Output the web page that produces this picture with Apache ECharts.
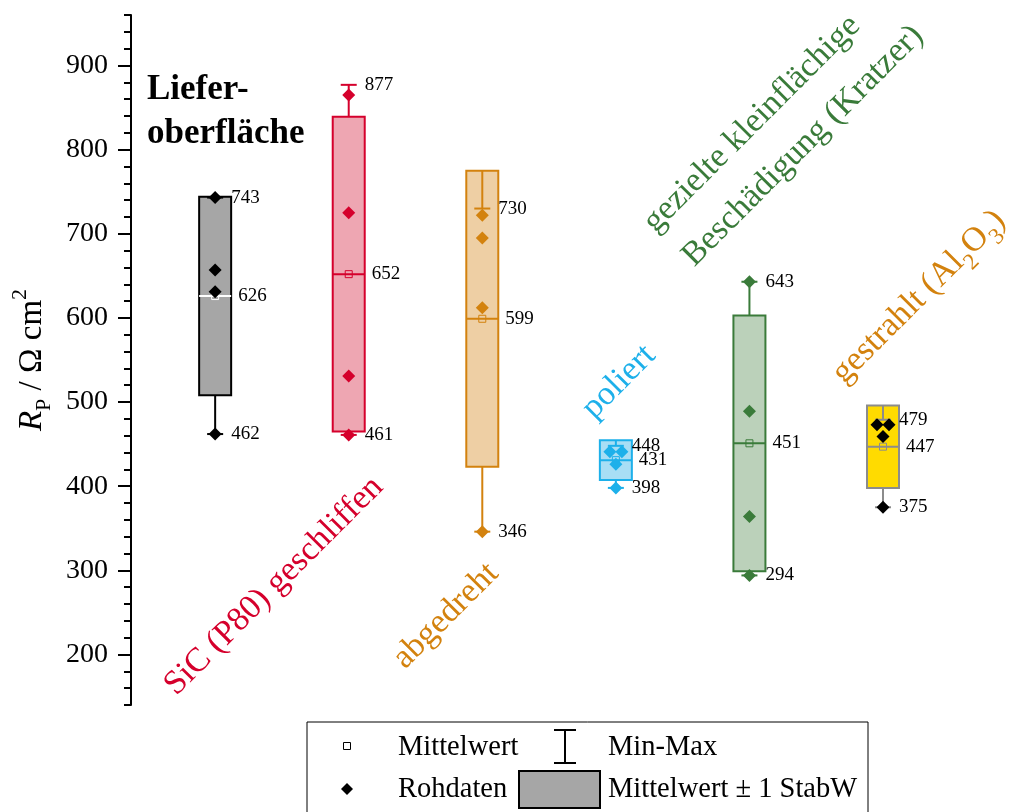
<!DOCTYPE html>
<html><head><meta charset="utf-8">
<script src="https://cdn.jsdelivr.net/npm/echarts@6/dist/echarts.min.js"></script>
<style>html,body{margin:0;padding:0;background:#fff}#c{width:1011px;height:812px}</style>
</head><body><div id="c"></div>
<script>
const categories = ['Lieferoberfläche', 'SiC (P80) geschliffen', 'abgedreht', 'poliert', 'gezielte kleinflächige Beschädigung (Kratzer)', 'gestrahlt (Al2O3)'];
const meanValues = [626, 652, 599, 431, 451, 447];
const sdValues = [118, 187, 176, 23.5, 152, 49];
const minValues = [462, 461, 346, 398, 294, 375];
const maxValues = [743, 877, 730, 448, 643, 479];
const rawValues = [
  [743, 657, 631, 462],
  [865, 725, 531, 461],
  [722, 695, 612, 346],
  [441, 441, 426, 398],
  [643, 489, 364, 294],
  [473, 473, 459, 375]
];
const yMajorTicks = [200, 300, 400, 500, 600, 700, 800, 900];
const yMinorTicks = [140, 160, 180, 200, 220, 240, 260, 280, 300, 320, 340, 360, 380, 400, 420, 440, 460, 480, 500, 520, 540, 560, 580, 600, 620, 640, 660, 680, 700, 720, 740, 760, 780, 800, 820, 840, 860, 880, 900, 920, 940, 960];

const FONT = '"Liberation Serif", "Times New Roman", serif';
const boxFill = ['#a6a6a6', '#eea6b2', '#eecfa4', '#a8def5', '#bbd1ba', '#ffdb00'];
const boxStroke = ['#000000', '#d5002c', '#d3820e', '#1db0ea', '#3a7b3a', '#8c8c8c'];
const whiskerColor = ['#000000', '#d5002c', '#d3820e', '#1db0ea', '#3a7b3a', '#8c8c8c'];
const meanLineColor = ['#ffffff', '#d5002c', '#d3820e', '#1db0ea', '#3a7b3a', '#8c8c8c'];
const pointColor = ['#000000', '#d5002c', '#d3820e', '#1db0ea', '#3a7b3a', '#000000'];

const boxData = categories.map((c, i) => [i + 1, meanValues[i], sdValues[i], minValues[i], maxValues[i]]);

const pointData = [];
rawValues.forEach((vals, i) => {
  vals.forEach((v, k) => {
    let off = 0;
    const dupIdx = vals.findIndex((w, j) => j !== k && Math.abs(w - v) < 3);
    if (dupIdx >= 0) off = dupIdx > k ? -0.045 : 0.045;
    pointData.push({ value: [i + 1 + off, v], itemStyle: { color: pointColor[i], opacity: 1 } });
  });
});

function renderBox(params, api) {
  const i = params.dataIndex;
  const x = api.value(0), mean = api.value(1), sd = api.value(2), mn = api.value(3), mx = api.value(4);
  const pTop = api.coord([x, mean + sd]), pBot = api.coord([x, mean - sd]);
  const pMean = api.coord([x, mean]), pMin = api.coord([x, mn]), pMax = api.coord([x, mx]);
  const cx = pMean[0], hw = 16, cap = 8;
  const wc = whiskerColor[i];
  const txt = (t, dx, y) => ({
    type: 'text',
    style: { text: t, x: cx + dx, y: y, fill: '#000', fontSize: 19, fontFamily: FONT,
      align: 'left', verticalAlign: 'middle', textAlign: 'left', textVerticalAlign: 'middle' }
  });
  return {
    type: 'group',
    children: [
      { type: 'rect', shape: { x: cx - hw, y: pTop[1], width: 2 * hw, height: pBot[1] - pTop[1] },
        style: { fill: boxFill[i], stroke: boxStroke[i], lineWidth: 2 } },
      { type: 'line', shape: { x1: cx, y1: pTop[1], x2: cx, y2: pMax[1] }, style: { stroke: wc, lineWidth: 2 } },
      { type: 'line', shape: { x1: cx - cap, y1: pMax[1], x2: cx + cap, y2: pMax[1] }, style: { stroke: wc, lineWidth: 2 } },
      { type: 'line', shape: { x1: cx, y1: pBot[1], x2: cx, y2: pMin[1] }, style: { stroke: wc, lineWidth: 2 } },
      { type: 'line', shape: { x1: cx - cap, y1: pMin[1], x2: cx + cap, y2: pMin[1] }, style: { stroke: wc, lineWidth: 2 } },
      { type: 'line', shape: { x1: cx - hw, y1: pMean[1], x2: cx + hw, y2: pMean[1] }, style: { stroke: meanLineColor[i], lineWidth: 2 } },
      { type: 'rect', shape: { x: cx - 3.5, y: pMean[1] - 3.5, width: 7, height: 7 }, style: { fill: 'none', stroke: meanLineColor[i], lineWidth: 1 } },
      txt(String(mx), 16, pMax[1]),
      txt(String(mean), 23, pMean[1]),
      txt(String(mn), 16, pMin[1])
    ]
  };
}

function rotText(text, cx, cy, color, size, rich) {
  return {
    type: 'text', x: cx, y: cy, rotation: Math.PI / 4,
    style: { text: text, fill: color, fontSize: size, fontFamily: FONT,
      align: 'center', verticalAlign: 'middle', textAlign: 'center', textVerticalAlign: 'middle', rich: rich }
  };
}

const chart = echarts.init(document.getElementById('c'), null, { renderer: 'canvas' });
const legendFont = { fill: '#000', fontSize: 28.5, fontFamily: FONT, align: 'left', verticalAlign: 'middle', textAlign: 'left', textVerticalAlign: 'middle' };
const RS = 34;

chart.setOption({
  animation: false,
  backgroundColor: '#fff',
  grid: { left: 131, right: 34.5, top: 15, bottom: 107 },
  xAxis: { type: 'value', min: 0.37, max: 6.7, show: false },
  yAxis: [{
    type: 'value', min: 140, max: 960, position: 'left',
    axisLine: { show: true, lineStyle: { color: '#000', width: 2 } },
    axisTick: { show: true, customValues: yMajorTicks, length: 13, lineStyle: { color: '#000', width: 2 } },
    axisLabel: { customValues: yMajorTicks, margin: 23, color: '#000', fontSize: 28, fontFamily: FONT },
    splitLine: { show: false },
    name: '{i|R}{s|P}{n| / Ω cm}{u|2}',
    nameLocation: 'middle', nameRotate: 90, nameGap: 76,
    nameTextStyle: {
      color: '#000', fontFamily: FONT, fontSize: 33,
      rich: {
        i: { fontStyle: 'italic', fontSize: 33, fontFamily: FONT, color: '#000' },
        n: { fontSize: 33, fontFamily: FONT, color: '#000' },
        s: { fontSize: 22, fontFamily: FONT, color: '#000', verticalAlign: 'bottom', padding: [24, 0, 0, 0] },
        u: { fontSize: 22, fontFamily: FONT, color: '#000', verticalAlign: 'top', padding: [0, 0, 24, 0] }
      }
    }
  }, {
    type: 'value', min: 140, max: 960, position: 'left', offset: 0,
    axisLine: { show: false },
    axisTick: { show: true, customValues: yMinorTicks, length: 7, lineStyle: { color: '#000', width: 2 } },
    axisLabel: { show: false },
    splitLine: { show: false }
  }],
  series: [{
    type: 'custom', renderItem: renderBox, data: boxData, z: 2,
    encode: { x: 0, y: [1] }
  }, {
    type: 'scatter', data: pointData, symbol: 'diamond', symbolSize: 13, z: 3,
    itemStyle: { opacity: 1 }
  }],
  graphic: [
    { type: 'text', x: 147, y: 90, style: { text: 'Liefer-', fill: '#000', fontSize: 35, fontWeight: 'bold', fontFamily: FONT, align: 'left', verticalAlign: 'middle', textAlign: 'left', textVerticalAlign: 'middle' } },
    { type: 'text', x: 147, y: 134, style: { text: 'oberfläche', fill: '#000', fontSize: 35, fontWeight: 'bold', fontFamily: FONT, align: 'left', verticalAlign: 'middle', textAlign: 'left', textVerticalAlign: 'middle' } },
    rotText('SiC (P80) geschliffen', 274, 586, '#d5002c', RS),
    rotText('abgedreht', 446, 616, '#d3820e', RS),
    rotText('poliert', 619, 382, '#1db0ea', RS),
    rotText('gezielte kleinflächige', 752, 124, '#3a7b3a', RS),
    rotText('Beschädigung (Kratzer)', 803, 146, '#3a7b3a', RS),
    rotText('{n|gestrahlt (Al}{s|2}{n|O}{s|3}{n|)}', 919, 297, '#d3820e', RS, {
      n: { fontSize: RS, fontFamily: FONT, fill: '#d3820e', color: '#d3820e' },
      s: { fontSize: 23, fontFamily: FONT, fill: '#d3820e', color: '#d3820e', verticalAlign: 'bottom', padding: [26, 0, 0, 0] }
    }),
    { type: 'rect', shape: { x: 307, y: 722, width: 561, height: 110 }, style: { fill: '#fff', stroke: '#000', lineWidth: 1 }, z: 10 },
    { type: 'rect', shape: { x: 343.5, y: 742.5, width: 7, height: 7 }, style: { fill: 'none', stroke: '#000', lineWidth: 1 }, z: 11 },
    { type: 'text', x: 398, y: 748, style: Object.assign({ text: 'Mittelwert' }, legendFont), z: 11 },
    { type: 'line', shape: { x1: 565, y1: 730, x2: 565, y2: 763 }, style: { stroke: '#000', lineWidth: 2 }, z: 11 },
    { type: 'line', shape: { x1: 554, y1: 730, x2: 576, y2: 730 }, style: { stroke: '#000', lineWidth: 2 }, z: 11 },
    { type: 'line', shape: { x1: 554, y1: 763, x2: 576, y2: 763 }, style: { stroke: '#000', lineWidth: 2 }, z: 11 },
    { type: 'text', x: 608, y: 748, style: Object.assign({ text: 'Min-Max' }, legendFont), z: 11 },
    { type: 'polygon', shape: { points: [[347, 783], [353, 789], [347, 795], [341, 789]] }, style: { fill: '#000' }, z: 11 },
    { type: 'text', x: 398, y: 790, style: Object.assign({ text: 'Rohdaten' }, legendFont), z: 11 },
    { type: 'rect', shape: { x: 519, y: 771, width: 81, height: 37 }, style: { fill: '#a6a6a6', stroke: '#000', lineWidth: 2 }, z: 11 },
    { type: 'text', x: 608, y: 790, style: Object.assign({ text: 'Mittelwert ± 1 StabW' }, legendFont), z: 11 }
  ]
});
</script>
</body></html>
